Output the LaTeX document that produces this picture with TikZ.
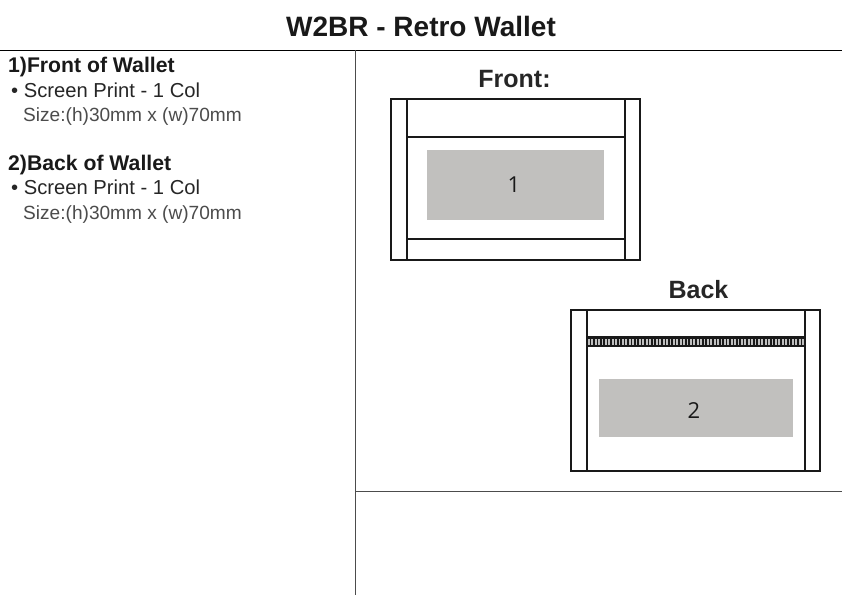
\documentclass[tikz,border=0pt]{standalone}
\usepackage{fontspec}
\setmainfont{Liberation Sans}
\newfontfamily\numfont{Open Sans}
\tikzset{
 x=1pt,y=-1pt,
 rule/.style={draw=black!70!white,line width=1pt},
 edgeline/.style={draw=black!90,line width=1.5pt},
 printarea/.style={fill=printgray,draw=none},
 heading/.style={anchor=base west,inner sep=0pt,font=\fontsize{21.2}{21.2}\selectfont\bfseries,text=black!90},
 bodytext/.style={anchor=base west,inner sep=0pt,font=\fontsize{20.2}{20.2}\selectfont,text=black!85},
 sizetext/.style={anchor=base west,inner sep=0pt,font=\fontsize{19.1}{19.1}\selectfont,text=black!70},
 viewlabel/.style={anchor=base,inner sep=0pt,font=\fontsize{25}{25}\selectfont\bfseries,text=black!85},
 numlabel/.style={anchor=center,inner sep=0pt,font=\fontsize{22}{22}\selectfont\numfont,text=black!90},
}
\definecolor{printgray}{RGB}{193,192,190}
\begin{document}
\begin{tikzpicture}
\useasboundingbox (0,0) rectangle (842,595);
\fill[white] (0,0) rectangle (842,595);
% rules
\draw[rule,draw=black] (0,50) -- (842,50);
\draw[rule] (355,50) -- (355,595);
\draw[rule] (355,491) -- (842,491);
% title
\node[anchor=base,inner sep=0pt,font=\fontsize{28}{28}\selectfont\bfseries,text=black!90] (title) at (421,36) {W2BR - Retro Wallet};
% left text
\node[heading] (h1) at (8,72.7) {1)Front of Wallet};
\node[bodytext] (b1) at (11,97.3) {• Screen Print - 1 Col};
\node[sizetext] (s1) at (23,121.7) {Size:(h)30mm x (w)70mm};
\node[heading] (h2) at (8,170.7) {2)Back of Wallet};
\node[bodytext] (b2) at (11,194.3) {• Screen Print - 1 Col};
\node[sizetext] (s2) at (23,219.7) {Size:(h)30mm x (w)70mm};
% front
\node[viewlabel] (front) at (514.5,87) {Front:};
\draw[edgeline] (391,99) rectangle (640,260);
\draw[edgeline] (407,99) -- (407,260);
\draw[edgeline] (625,99) -- (625,260);
\draw[edgeline] (407,137) -- (625,137);
\draw[edgeline] (407,239) -- (625,239);
\fill[printarea] (427,150) rectangle (604,220);
\node[numlabel] (n1) at (514,185) {1};
% back
\node[viewlabel] (back) at (698.5,298) {Back};
\draw[edgeline] (571,310) rectangle (820,471);
\draw[edgeline] (587,310) -- (587,471);
\draw[edgeline] (805,310) -- (805,471);
\fill[black!90] (587,336) rectangle (805,347);
\draw[white!75!black,line width=6pt,dash pattern=on 1.7pt off 1.7pt] (588,341.5) -- (804,341.5);
\fill[printarea] (599,379) rectangle (793,437);
\node[numlabel] (n2) at (694,410.5) {2};
\end{tikzpicture}
\end{document}
